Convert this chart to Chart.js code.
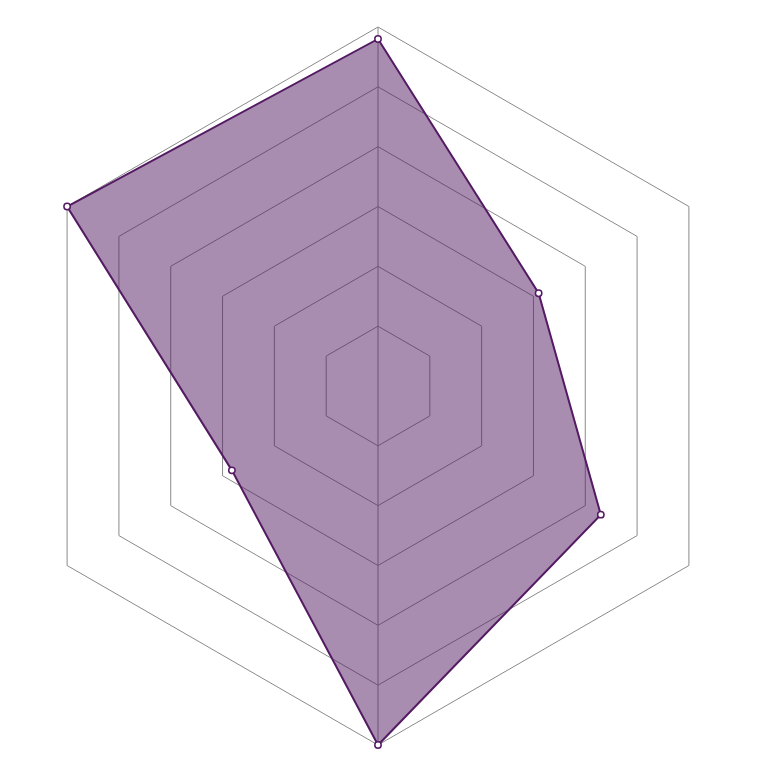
<!DOCTYPE html>
<html>
<head>
<meta charset="utf-8">
<script src="https://cdn.jsdelivr.net/npm/chart.js@4"></script>
<style>
  html, body { margin: 0; padding: 0; background: #ffffff; }
  #wrap { position: absolute; left: 9px; top: 17px; width: 738px; height: 738px; }
</style>
</head>
<body>
<div id="wrap"><canvas id="c"></canvas></div>
<script>
const categories = ['A', 'B', 'C', 'D', 'E', 'F'];
const seriesValues = [5.8, 3.1, 4.3, 6.0, 2.82, 6.0];
const scaleMin = 0;
const scaleMax = 6;
const scaleStep = 1;

const lineColor = 'rgb(84,27,99)';
const fillColor = 'rgba(84,27,99,0.5)';

new Chart(document.getElementById('c'), {
  type: 'radar',
  data: {
    labels: categories,
    datasets: [{
      data: seriesValues,
      borderColor: lineColor,
      backgroundColor: fillColor,
      borderWidth: 2,
      fill: true,
      clip: false,
      pointRadius: 3.2,
      pointBorderWidth: 1.5,
      pointBackgroundColor: '#ffffff',
      pointBorderColor: lineColor
    }]
  },
  options: {
    responsive: true,
    maintainAspectRatio: false,
    animation: false,
    layout: { padding: 10 },
    plugins: { legend: { display: false }, tooltip: { enabled: false } },
    scales: {
      r: {
        min: scaleMin,
        max: scaleMax,
        ticks: { display: false, stepSize: scaleStep },
        pointLabels: { display: false },
        grid: { color: '#8a8a8a', lineWidth: 1 },
        angleLines: {
          display: true,
          lineWidth: 1,
          color: (ctx) => (ctx.index === 0 || ctx.index === 3) ? '#8a8a8a' : 'rgba(0,0,0,0)'
        }
      }
    }
  }
});
</script>
</body>
</html>
